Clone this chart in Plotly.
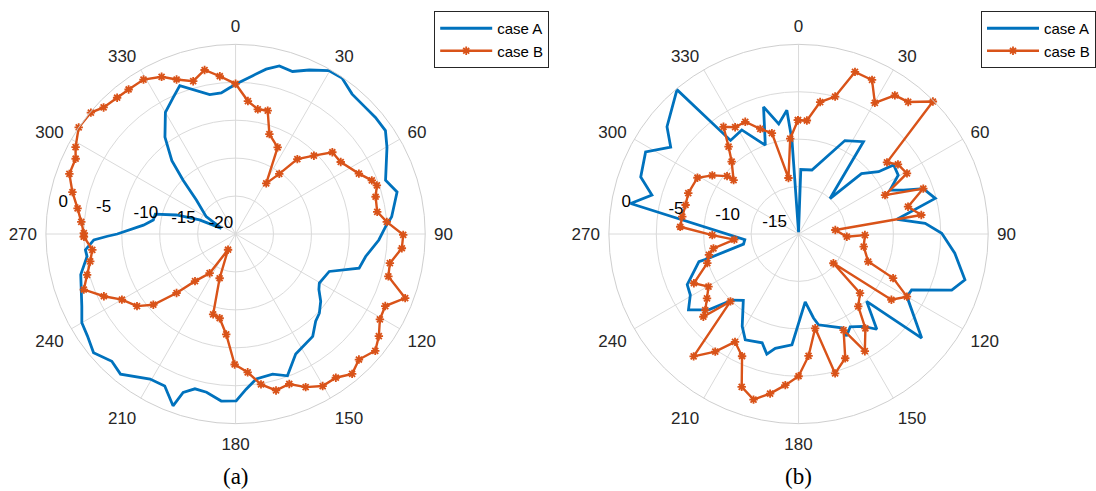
import plotly.graph_objects as go

# ---------------- data ----------------
ang_ticks = list(range(0, 360, 30))
ang_labels = [str(t) for t in ang_ticks]

# panel (a): radial ticks (dB)
a_rticks = [-20, -15, -10, -5, 0]
a_rlabels = ["-20", "-15", "-10", "-5", "0"]

a_theta_A = [291.6, 300.6, 310.8, 315.7, 319, 323.9, 330, 335.5, 339.4, 349.5, 354.2, 357.7,
             1.5, 6.2, 10.5, 14.6, 19.3, 24.2, 29.7, 34.3, 39.8, 45.7, 50.2, 55.4, 60.2, 70.3,
             75.4, 83.7, 87.2, 92.4, 99.8, 105.5, 111.8, 120.4, 123.7, 128.3, 133.4, 137.4, 143,
             153.4, 159.9, 165.2, 171.9, 176.1, 179.8, 184.9, 190.4, 194.7, 198.3, 200, 205,
             210.5, 219.4, 224.2, 230.1, 235.5, 240, 244.8, 255.3, 261.4, 264, 267.6, 269, 270,
             275.5, 279.6, 283.9, 287.8, 291.3, 291.6]
a_r_A = [-23.0, -20.5, -18.2, -15.1, -12.2, -9.2, -6.5, -5.2, -4.1, -6.3, -6.3, -5.7,
         -5.0, -4.0, -2.9, -2.1, -2.3, -1.3, -0.2, -0.1, -1.0, -1.1, -1.0, -1.0, -2.0, -4.0,
         -3.0, -4.3, -5.2, -6.1, -7.6, -8.1, -11.7, -12.2, -11.8, -10.7, -9.8, -9.4, -8.1,
         -7.3, -5.1, -5.9, -5.7, -4.5, -3.0, -2.9, -3.8, -3.9, -3.0, -0.9, -2.9,
         -2.8, -1.1, -1.6, -0.6, -1.3, -1.6, -2.6, -3.9, -5.2, -5.1, -6.3, -8.1, -9.4,
         -12.8, -14.0, -14.1, -16.8, -19.9, -23.0]

a_theta_B = [269, 270.3, 274.5, 279.2, 284.4, 289.9, 295.2, 298.5, 304.2, 310, 313.8, 319,
             323.5, 329.2, 334.8, 339.1, 344.5, 349.3, 354.3, 0, 5.3, 10.1, 14.6, 18.7, 25.9,
             31.2, 36, 39.5, 45, 49.8, 55.6, 63.9, 68.5, 71, 75.1, 81.1, 85.4, 90.3, 94.9,
             100.7, 105.5, 110.7, 115.7, 120.6, 125.5, 129.9, 135.5, 140.2, 145.1, 150.2,
             155.4, 160.3, 165.5, 170.4, 175, 180.4, 185.3, 190.7, 195.6, 199.8, 205.6, 213.5,
             220.7, 225, 229.3, 233.8, 240, 244.7, 249.9, 254.6, 259.3, 263.7, 269]
a_r_B = [-5.0, -5.0, -4.6, -3.9, -2.8, -1.7, -1.7, -1.0, 0.0, -0.1, -0.9, -1.2,
         -1.3, -1.3, -2.1, -3.2, -4.1, -3.0, -4.1, -5.2, -7.4, -8.3, -8.2, -11.1, -12.3,
         -17.2, -15.2, -12.2, -10.4, -8.3, -8.2, -6.9, -5.7, -5.3, -5.9, -6.1, -5.0, -2.9, -3.0,
         -4.3, -4.1, -1.1, -3.1, -2.9, -1.8, -1.0, -1.8, -1.0, -1.9, -1.9,
         -2.8, -4.0, -3.7, -4.9, -6.7, -7.8, -11.7, -13.7, -14.0, -18.8, -22.7, -18.8,
         -16.8, -14.0, -10.7, -8.9, -7.7, -5.8, -3.7, -4.7, -5.5, -6.0, -5.0]

# panel (b): radial ticks (dB)
b_rticks = [-15, -10, -5, 0]
b_rlabels = ["-15", "-10", "-5", "0"]

b_theta_A = [0, 2, 11.8, 26.4, 35.1, 41.6, 46.2, 52.1, 54, 59.5, 64.4, 67.3, 70, 75.4, 81.5,
             85.2, 89.7, 97, 105.4, 110.1, 116.3, 120, 130.2, 134.7, 140.6, 144.9, 150.9,
             154.8, 155.3, 162.1, 167.6, 169.9, 174.4, 183.4, 191.5, 194.8, 198.5, 206.7,
             211.4, 219.8, 225.3, 229.8, 235.4, 240.6, 245.5, 254.5, 254.9, 259.6, 264,
             280.3, 284.9, 289.9, 298.2, 304.2, 309.2, 319.9, 324, 331.4, 339.5, 344.6,
             349.8, 354.6, 356, 0]
b_r_A = [-19.8, -13.2, -13.1, -9.0, -8.1, -15.0, -10.8, -9.3, -7.6, -7.8, -9.3, -8.0, -6.0, -5.1, -9.5,
         -6.6, -4.9, -3.4, -1.8, -2.8, -6.7, -6.8, -3.0, -9.9, -7.0, -8.1, -8.8,
         -8.1, -9.1, -9.8, -10.2, -11.0, -12.8, -8.3, -7.7, -6.9, -7.9, -7.5,
         -8.6, -10.9, -10.1, -7.6, -5.9, -6.9, -7.1, -9.1, -10.2, -14.1, -14.3,
         -2.0, -4.0, -2.3, -1.7, -3.7, -2.1, -0.1, -7.8, -7.5, -10.0, -6.1,
         -8.2, -6.9, -10.1, -19.8]

b_theta_B = [359.7, 4.2, 9.3, 14.9, 19.2, 25.5, 30.2, 34.8, 39.7, 45.4, 51, 55, 60.8, 65.8,
             70, 76, 81.2, 83.8, 93.2, 90.9, 101, 111.6, 115, 120, 125.3, 130, 133.9, 140.5,
             144.7, 150.5, 154.9, 159.4, 165.3, 170, 175.3, 180, 185, 190.1, 195.2, 200.4,
             204.8, 210.5, 215.3, 220.6, 225.3, 229, 230.8, 234.9, 239.7, 244.8, 252.3, 256.9,
             260.4, 265, 269.3, 273.5, 278.5, 284.4, 290.3, 299.1, 304.2, 309, 309.7, 317.3,
             321.3, 325, 329.3, 334.6, 340, 345.2, 349.8, 355, 359.7]
b_r_B = [-8.0, -8.0, -5.9, -5.0, -1.9, -2.0, -4.0, -2.2, -1.9, -0.1, -8.0, -7.2, -6.9, -10.0,
         -6.0, -8.1, -6.9, -16.1, -14.9, -13.0, -13.0, -12.1, -9.0, -6.8, -8.0, -15.2, -11.0, -10.1,
         -7.8, -5.8, -8.8, -6.0, -4.8, -9.9, -7.1, -5.0, -4.0, -2.9, -1.9, -2.8,
         -5.8, -6.8, -4.8, -3.0, -9.9, -6.7, -7.3, -8.2, -9.0, -7.8, -9.9, -10.3,
         -10.9, -13.2, -10.9, -7.5, -7.6, -7.7, -7.6, -7.8, -9.0, -10.3, -11.1, -9.6,
         -8.2, -6.2, -6.9, -6.9, -8.2, -9.0, -14.0, -9.9, -8.0]

# ---------------- style ----------------
BLUE = "#0072BD"
RED = "#D95319"
GRID = "#dadada"
TXT = "#262626"
FONT = "Liberation Sans, Arial, sans-serif"
SERIF = "Liberation Serif, Times New Roman, serif"
PAD = "\u00a0" * 2  # leading padding nudges radial labels toward the centre

W, H = 1096, 491
RAXIS_ANGLE = 172


def polar_layout(cx, cy, rad, rrange, rticks, rlabels):
    return dict(
        domain=dict(x=[(cx - rad) / W, (cx + rad) / W],
                    y=[(H - cy - rad) / H, (H - cy + rad) / H]),
        bgcolor="white",
        angularaxis=dict(
            rotation=90, direction="clockwise",
            tickmode="array", tickvals=ang_ticks, ticktext=ang_labels,
            showgrid=True, gridcolor=GRID, gridwidth=1,
            showline=True, linecolor="#cfcfcf", linewidth=1,
            ticks="outside", ticklen=5, tickcolor="rgba(0,0,0,0)",
            tickfont=dict(family=FONT, size=17, color=TXT),
        ),
        radialaxis=dict(
            range=rrange, tickmode="array", tickvals=rticks,
            ticktext=[PAD + t for t in rlabels],
            showgrid=True, gridcolor=GRID, gridwidth=1,
            showline=False, ticks="", angle=RAXIS_ANGLE, side="clockwise",
            tickangle=RAXIS_ANGLE,
            tickfont=dict(family=FONT, size=17, color="black"),
        ),
    )


fig = go.Figure()

panels = [
    ("polar", "legend", a_theta_A, a_r_A, a_theta_B, a_r_B),
    ("polar2", "legend2", b_theta_A, b_r_A, b_theta_B, b_r_B),
]
for sub, leg, tA, rA, tB, rB in panels:
    fig.add_trace(go.Scatterpolar(
        theta=tA, r=rA, mode="lines", name="case A",
        line=dict(color=BLUE, width=2.8),
        subplot=sub, legend=leg,
    ))
    fig.add_trace(go.Scatterpolar(
        theta=tB, r=rB, mode="lines+markers", name="case B",
        line=dict(color=RED, width=2.4),
        marker=dict(symbol="asterisk-open", size=7, color=RED,
                    line=dict(color=RED, width=1.8)),
        subplot=sub, legend=leg,
    ))

legend_common = dict(
    xanchor="left", yanchor="top",
    bgcolor="white", bordercolor=TXT, borderwidth=1,
    font=dict(family=FONT, size=15, color="black"),
    itemwidth=52, tracegroupgap=0,
)

fig.update_layout(
    width=W, height=H,
    margin=dict(l=0, r=0, t=0, b=0),
    paper_bgcolor="white",
    showlegend=True,
    polar=polar_layout(236, 234, 190, [-25, 0], a_rticks, a_rlabels),
    polar2=polar_layout(800, 234, 190, [-20, 0], b_rticks, b_rlabels),
    legend=dict(x=435 / W, y=1 - 11 / H, **legend_common),
    legend2=dict(x=983 / W, y=1 - 11 / H, **legend_common),
    annotations=[
        dict(text="(a)", x=236 / W, y=1 - 476 / H, xref="paper", yref="paper",
             showarrow=False, xanchor="center", yanchor="middle",
             font=dict(family=SERIF, size=23, color="black")),
        dict(text="(b)", x=800 / W, y=1 - 476 / H, xref="paper", yref="paper",
             showarrow=False, xanchor="center", yanchor="middle",
             font=dict(family=SERIF, size=23, color="black")),
    ],
)

fig.write_html("out.html")
